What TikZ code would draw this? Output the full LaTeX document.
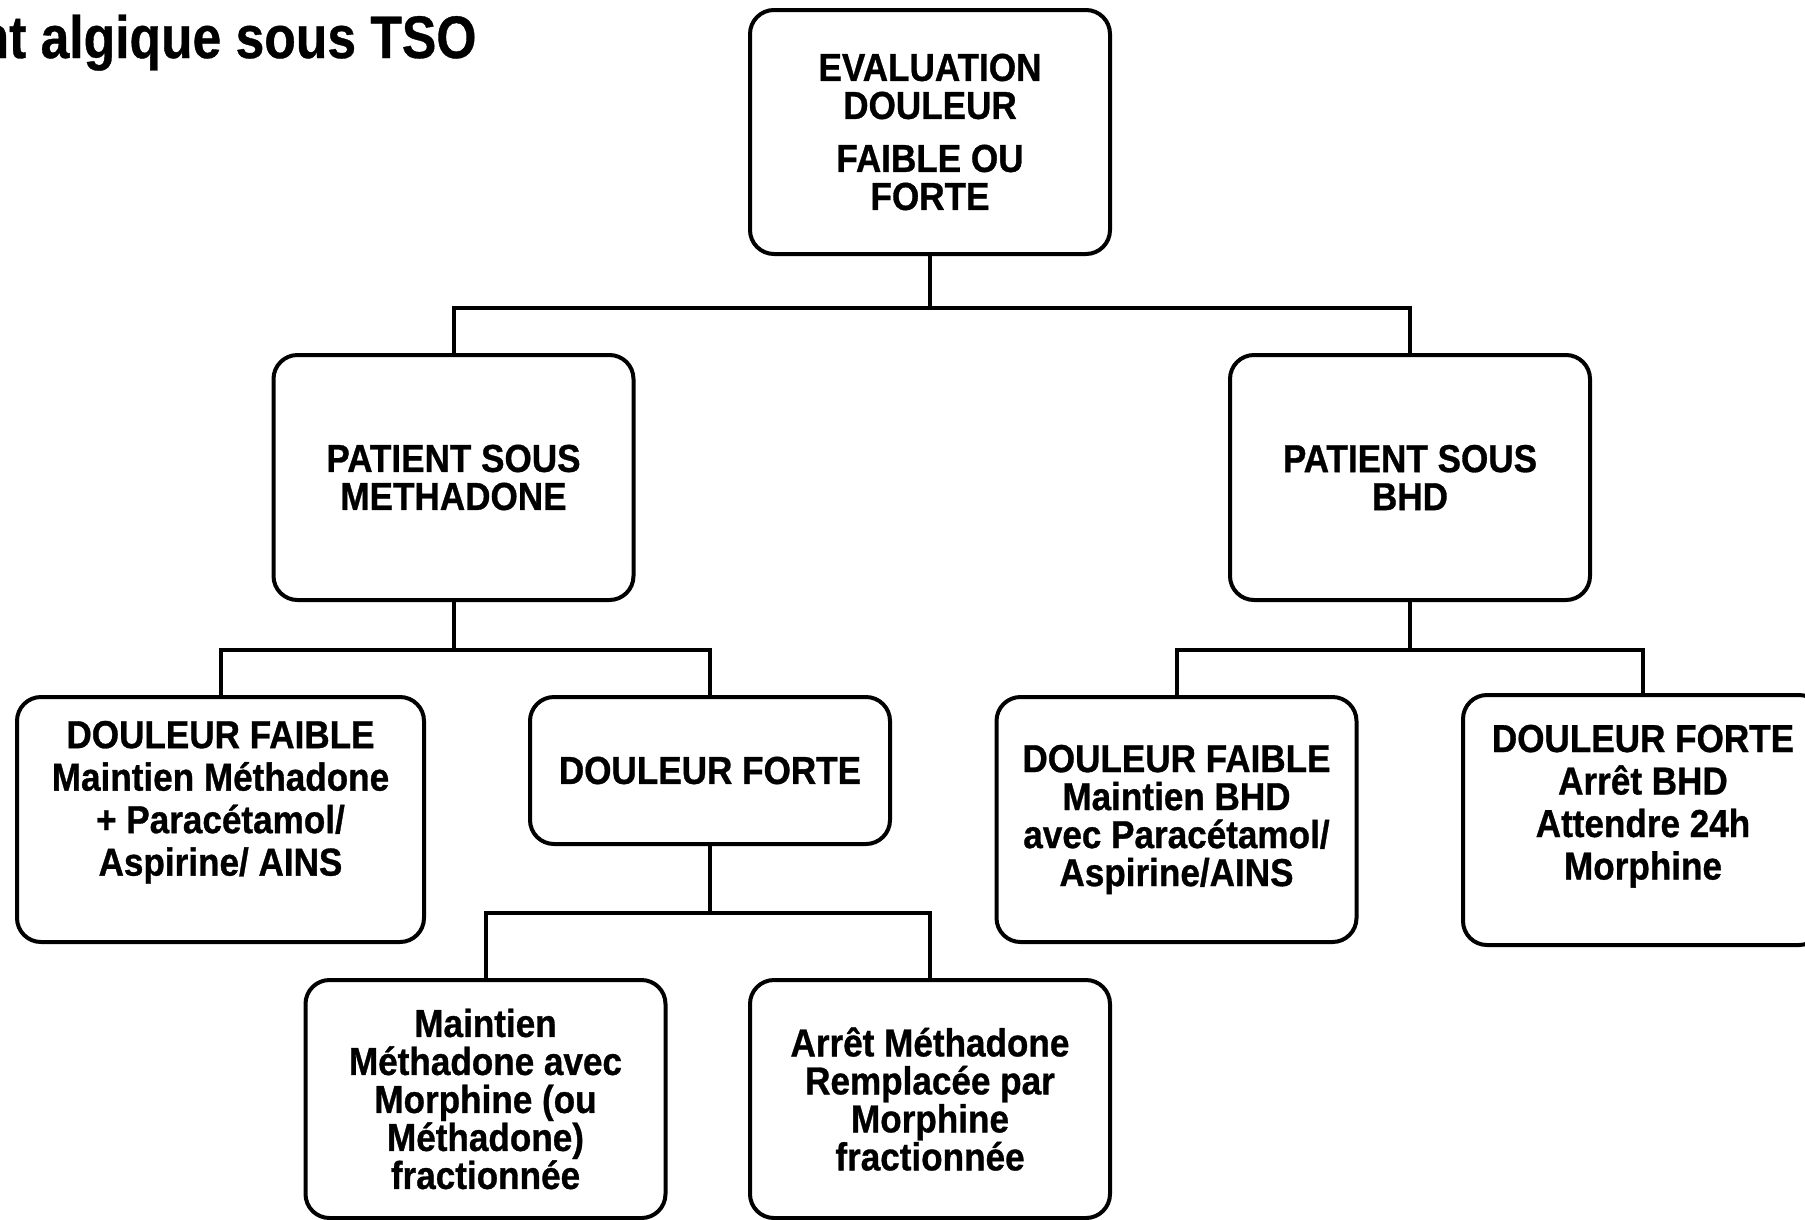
\documentclass[tikz,border=0pt]{standalone}
\usepackage{fontspec}
\newfontfamily\boxfont[FakeStretch=0.9,FakeBold=0.8]{Liberation Sans}
\newfontfamily\titlefont[FakeStretch=0.86,FakeBold=0.6]{Liberation Sans}
\begin{document}
\begin{tikzpicture}[x=1pt,y=-1pt,
  box/.style={draw=black, line width=4pt, rounded corners=24pt, fill=white,
    minimum width=360pt, inner sep=0pt, align=center,
    font=\boxfont\bfseries\fontsize{39}{38}\selectfont},
  loose/.style={font=\boxfont\bfseries\fontsize{39}{42.5}\selectfont},
  link/.style={draw=black, line width=4pt}
]
\useasboundingbox[fill=white] (0,0) rectangle (1805,1219);

\node[anchor=base east, font=\titlefont\bfseries\fontsize{60}{60}\selectfont] (title) at (480,58) {nt algique sous TSO};

\node[box, minimum height=244pt] (T) at (930,132) {EVALUATION\\DOULEUR\\[15pt]FAIBLE OU\\FORTE};

\node[box, minimum height=245pt] (PM) at (453.5,477.5) {PATIENT SOUS\\METHADONE};
\node[box, minimum height=245pt] (PB) at (1410,477.5) {PATIENT SOUS\\BHD};

\node[box, loose, minimum width=407pt, minimum height=245pt] (F1) at (220.5,819.5) {DOULEUR FAIBLE\\Maintien Méthadone\\+ Paracétamol/\\Aspirine/ AINS\\\mbox{}};
\node[box, minimum height=147pt] (F2) at (710,770.5) {DOULEUR FORTE};
\node[box, minimum height=245pt] (F3) at (1176.5,819.5) {\rule{0pt}{10pt}DOULEUR FAIBLE\\Maintien BHD\\avec Paracétamol/\\Aspirine/AINS};
\node[box, loose, minimum height=250pt] (F4) at (1643,820) {\rule{0pt}{34pt}DOULEUR FORTE\\Arrêt BHD\\Attendre 24h\\Morphine\\\mbox{}};

\node[box, minimum height=238pt] (M1) at (485.5,1099) {Maintien\\Méthadone avec\\Morphine (ou\\Méthadone)\\fractionnée};
\node[box, minimum height=238pt] (M2) at (930,1099) {Arrêt Méthadone\\Remplacée par\\Morphine\\fractionnée};

\draw[link] (T.south) -- ++(0,52) coordinate (j1);
\draw[link] (j1) -| (PM.north);
\draw[link] (j1) -| (PB.north);

\draw[link] (PM.south) -- ++(0,48) coordinate (j2);
\draw[link] (j2) -| (F1.north);
\draw[link] (j2) -| (F2.north);

\draw[link] (PB.south) -- ++(0,48) coordinate (j3);
\draw[link] (j3) -| (F3.north);
\draw[link] (j3) -| (F4.north);

\draw[link] (F2.south) -- ++(0,67) coordinate (j4);
\draw[link] (j4) -| (M1.north);
\draw[link] (j4) -| (M2.north);
\end{tikzpicture}
\end{document}
